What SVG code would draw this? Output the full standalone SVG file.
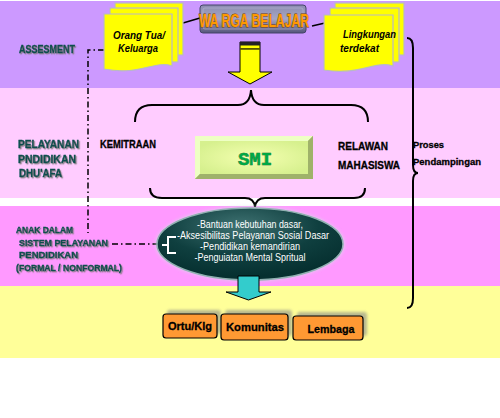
<svg xmlns="http://www.w3.org/2000/svg" width="500" height="418" viewBox="0 0 500 418">
<defs>
<style>
.lbl{font-family:"Liberation Sans",Arial,sans-serif;font-weight:bold;fill:#0b4f4f;stroke:#0b4f4f;stroke-width:0.4;filter:url(#sh)}
.blk{font-family:"Liberation Sans",Arial,sans-serif;font-weight:bold;fill:#000;stroke:#000;stroke-width:0.3}
.card{font-family:"Liberation Sans",Arial,sans-serif;font-weight:bold;font-style:italic;font-size:10.5px;fill:#000}
.ell{font-family:"Liberation Sans",Arial,sans-serif;font-size:10px;fill:#fff}
.obox{fill:#ff9933;stroke:#000;stroke-width:1.2}
.note{fill:#ffff00;stroke:#b8b8c8;stroke-width:1.2}
.brace{fill:none;stroke:#000;stroke-width:2}
.dd{fill:none;stroke:#000;stroke-width:1.5;stroke-dasharray:6,3,1.5,3}
</style>
<filter id="sh" x="-10%" y="-30%" width="130%" height="170%">
<feDropShadow dx="1.2" dy="1.2" stdDeviation="0.6" flood-color="#777" flood-opacity="0.8"/>
</filter>
<filter id="blur" x="-20%" y="-20%" width="140%" height="140%">
<feGaussianBlur stdDeviation="1.5"/>
</filter>
<linearGradient id="wb" x1="0" y1="0" x2="0" y2="1">
<stop offset="0" stop-color="#8c8cb0"/>
<stop offset="0.5" stop-color="#a6a6c4"/>
<stop offset="1" stop-color="#55557a"/>
</linearGradient>
<radialGradient id="smi" cx="50%" cy="50%" r="60%">
<stop offset="0" stop-color="#f4ffb0"/>
<stop offset="1" stop-color="#d6f08e"/>
</radialGradient>
<radialGradient id="el" cx="45%" cy="25%" r="70%">
<stop offset="0" stop-color="#3f7272"/>
<stop offset="0.6" stop-color="#0f3f3f"/>
<stop offset="1" stop-color="#063030"/>
</radialGradient>
</defs>

<!-- background bands -->
<g id="bands">
<rect x="0" y="0" width="500" height="418" fill="#fff"/>
<rect x="0" y="1" width="500" height="87" fill="#cc99ff"/>
<rect x="0" y="88" width="500" height="110" fill="#ffccff"/>
<rect x="0" y="206" width="500" height="80" fill="#ff99ff"/>
<rect x="0" y="286" width="500" height="72" fill="#ffff99"/>
</g>

<!-- left labels -->
<g id="labels">
<text class="lbl" x="19" y="53" font-size="11" textLength="56" lengthAdjust="spacingAndGlyphs">ASSESMENT</text>
<text class="lbl" x="18" y="148" font-size="11" textLength="61" lengthAdjust="spacingAndGlyphs">PELAYANAN</text>
<text class="lbl" x="18" y="163" font-size="11" textLength="58" lengthAdjust="spacingAndGlyphs">PNDIDIKAN</text>
<text class="lbl" x="19" y="177" font-size="11" textLength="43" lengthAdjust="spacingAndGlyphs">DHU'AFA</text>
<text class="lbl" x="16" y="233" font-size="9.5" textLength="57" lengthAdjust="spacingAndGlyphs">ANAK DALAM</text>
<text class="lbl" x="19" y="246" font-size="9.5" textLength="89" lengthAdjust="spacingAndGlyphs">SISTEM PELAYANAN</text>
<text class="lbl" x="19" y="258" font-size="9.5" textLength="59" lengthAdjust="spacingAndGlyphs">PENDIDIKAN</text>
<text class="lbl" x="16" y="271" font-size="9.5" textLength="106" lengthAdjust="spacingAndGlyphs">(FORMAL / NONFORMAL)</text>
</g>

<!-- connectors -->
<g id="connectors">
<line x1="183" y1="23" x2="200" y2="18" stroke="#000" stroke-width="1.5"/>
<line x1="312" y1="26" x2="325" y2="23" stroke="#000" stroke-width="1.5"/>
<path class="dd" d="M104,50 H88 V233"/>
<path class="dd" d="M112,244 H162"/>
<path class="brace" d="M135,122 Q135,105 152,105 H238 Q250,105 251,90 Q252,105 264,105 H351 Q368,105 368,122"/>
<path class="brace" d="M150,188 Q150,198 162,198 H245 Q254,198 255,207 Q256,198 265,198 H354 Q365,198 365,188"/>
<path class="brace" d="M407,38 Q413,38 413,48 V165 Q413,173 418,173 Q413,173 413,181 V298 Q413,308 407,308"/>
</g>

<!-- Orang Tua card -->
<g id="orangtua">
<rect class="note" x="115" y="3" width="68" height="52"/>
<rect class="note" x="110" y="8" width="68" height="54"/>
<path class="note" d="M104,14 H172 V66 C155,60 140,76 104,69 Z"/>
<text class="card" x="139" y="39" text-anchor="middle" textLength="52" lengthAdjust="spacingAndGlyphs">Orang Tua/</text>
<text class="card" x="138" y="52" text-anchor="middle" textLength="40" lengthAdjust="spacingAndGlyphs">Keluarga</text>
</g>

<!-- WARGA BELAJAR -->
<g id="warga">
<rect x="200" y="5" width="106" height="28" rx="3" fill="url(#wb)" stroke="#44446a" stroke-width="1"/>
<rect x="203" y="8" width="100" height="21" rx="2" fill="none" stroke="#b8b8d4" stroke-width="0.8" opacity="0.7"/>
<text x="254" y="27" text-anchor="middle" font-family="Liberation Sans, Arial, sans-serif" font-weight="bold" font-size="18" fill="#ff9900" stroke="#7a3d00" stroke-width="0.8" paint-order="stroke" textLength="110" lengthAdjust="spacingAndGlyphs">WA RGA BELAJAR</text>
</g>

<!-- Lingkungan card -->
<g id="lingkungan">
<rect class="note" x="335" y="3" width="69" height="52"/>
<rect class="note" x="330" y="8" width="69" height="54"/>
<path class="note" d="M324,15 H393 V66 C375,60 360,76 324,70 Z"/>
<text class="card" x="343" y="38" textLength="53" lengthAdjust="spacingAndGlyphs">Lingkungan</text>
<text class="card" x="340" y="52" textLength="39" lengthAdjust="spacingAndGlyphs">terdekat</text>
</g>

<!-- yellow arrow -->
<g id="arrow1">
<path d="M240,42 H260 V72 H272 L250,84 L228,72 H240 Z" fill="#ffff00" stroke="#000" stroke-width="1"/>
<rect x="240" y="42" width="20" height="3.5" fill="#222"/>
<rect x="240" y="48" width="20" height="1.8" fill="#555500"/>
</g>

<!-- middle texts -->
<g id="kemitraan">
<text class="blk" x="100" y="148" font-size="10.5" textLength="56" lengthAdjust="spacingAndGlyphs">KEMITRAAN</text>
</g>
<g id="relawan">
<text class="blk" x="338" y="150" font-size="10.5" textLength="50" lengthAdjust="spacingAndGlyphs">RELAWAN</text>
<text class="blk" x="338" y="169" font-size="10.5" textLength="62" lengthAdjust="spacingAndGlyphs">MAHASISWA</text>
</g>
<g id="proses">
<text class="blk" x="413" y="148" font-size="9.5" textLength="31" lengthAdjust="spacingAndGlyphs">Proses</text>
<text class="blk" x="413" y="165" font-size="9.5" textLength="68" lengthAdjust="spacingAndGlyphs">Pendampingan</text>
</g>

<!-- SMI button -->
<g id="smi">
<rect x="195" y="136" width="118" height="43" fill="#a9bb74"/>
<polygon points="195,136 313,136 308,141 200,141 200,174 195,179" fill="#eeffc4"/>
<polygon points="313,136 313,179 195,179 200,174 308,174 308,141" fill="#9fb26a"/>
<rect x="200" y="141" width="108" height="33" fill="url(#smi)"/>
<text x="255" y="165" text-anchor="middle" font-family="Liberation Mono, Courier New, monospace" font-weight="bold" font-size="19" fill="#00a845" stroke="#0a4a22" stroke-width="0.5" paint-order="stroke">SMI</text>
</g>

<!-- ellipse -->
<g id="layanan">
<ellipse cx="250" cy="244" rx="95" ry="38" fill="#d0e4e4" opacity="0.5" filter="url(#blur)"/>
<ellipse cx="250" cy="244" rx="93" ry="36" fill="url(#el)" stroke="#8fb0b0" stroke-width="1.5"/>
<text class="ell" x="250" y="228" text-anchor="middle" textLength="106" lengthAdjust="spacingAndGlyphs">-Bantuan kebutuhan dasar,</text>
<text class="ell" x="177" y="239" textLength="152" lengthAdjust="spacingAndGlyphs">-Aksesibilitas  Pelayanan  Sosial Dasar</text>
<text class="ell" x="250" y="250" text-anchor="middle" textLength="100" lengthAdjust="spacingAndGlyphs">-Pendidikan kemandirian</text>
<text class="ell" x="250" y="261" text-anchor="middle" textLength="111" lengthAdjust="spacingAndGlyphs">-Penguiatan Mental Spritual</text>
<path d="M176,237 H168 V253 H176 M168,245 H162" fill="none" stroke="#fff" stroke-width="2"/>
</g>

<!-- cyan arrow -->
<g id="arrow2">
<path d="M238,276 H259 V292 H271 L248.5,300 L226,292 H238 Z" fill="#33cccc" stroke="#000" stroke-width="1"/>
</g>

<!-- bottom boxes -->
<g id="ortu">
<rect x="167" y="310" width="54" height="24" rx="3" fill="#888" opacity="0.6" filter="url(#blur)"/>
<rect class="obox" x="163" y="314" width="54" height="24" rx="3"/>
<text class="blk" x="190" y="330" font-size="11" text-anchor="middle" textLength="44" lengthAdjust="spacingAndGlyphs">Ortu/Klg</text>
</g>
<g id="komunitas">
<rect x="225" y="310" width="67" height="26" rx="3" fill="#888" opacity="0.6" filter="url(#blur)"/>
<rect class="obox" x="221" y="314" width="67" height="26" rx="3"/>
<text class="blk" x="255" y="331" font-size="11" text-anchor="middle" textLength="58" lengthAdjust="spacingAndGlyphs">Komunitas</text>
</g>
<g id="lembaga">
<rect x="297" y="312" width="70" height="24" rx="3" fill="#888" opacity="0.6" filter="url(#blur)"/>
<rect class="obox" x="293" y="316" width="70" height="24" rx="3"/>
<text class="blk" x="331" y="333" font-size="11" text-anchor="middle" textLength="47" lengthAdjust="spacingAndGlyphs">Lembaga</text>
</g>
</svg>
